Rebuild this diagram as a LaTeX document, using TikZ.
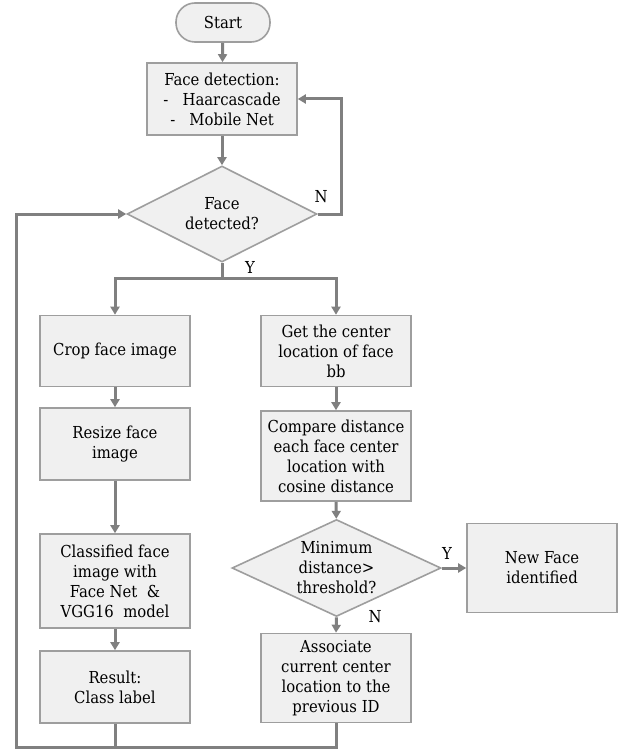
\documentclass[tikz,border=0pt]{standalone}
\usepackage{fontspec}
\setmainfont{DejaVu Serif Condensed}
\usetikzlibrary{shapes.geometric,arrows.meta}

\definecolor{boxfill}{gray}{0.94}
\definecolor{boxline}{gray}{0.62}
\definecolor{linegray}{gray}{0.5}

\begin{document}
\begin{tikzpicture}[x=1pt,y=-1pt,
  every node/.style={font=\fontsize{16.5}{20}\selectfont,inner sep=0pt},
  block/.style={draw=boxline,fill=boxfill,line width=1.6pt,align=center,minimum width=150pt},
  decision/.style={draw=boxline,fill=boxfill,line width=1.6pt,diamond},
  terminal/.style={draw=boxline,fill=boxfill,line width=1.6pt,rounded corners=19pt,minimum width=94pt,minimum height=39pt},
  line/.style={draw=linegray,line width=3pt},
  arr/.style={line,-{Triangle[length=8pt,width=9pt]}}]

\useasboundingbox (0,0) rectangle (631,749);

% Top part
\node[terminal] (start) at (223,22.5) {Start};
\node[block,minimum height=72pt] (det) at (222,99) {Face detection:\\-~~~Haarcascade\\-~~~Mobile Net};
\node[decision,minimum width=190pt,minimum height=96pt] (fd) at (222,214) {};
\node[align=center] (fdtext) at (fd) {Face\\detected?};

% Left column
\node[block,minimum height=71pt] (crop) at (115,351) {Crop face image};
\node[block,minimum height=72pt] (resize) at (115,444) {Resize face\\image};
\node[block,minimum height=94pt] (classify) at (115,581) {Classified face\\image with\\Face Net~~\&\\VGG16~~model};
\node[block,minimum height=72pt] (result) at (115,687) {Result:\\Class label};

% Right column
\node[block,minimum height=71pt] (center) at (336,351) {Get the center\\location of face\\bb};
\node[block,minimum height=90pt] (compare) at (336,456) {Compare distance\\each face center\\location with\\cosine distance};
\node[decision,minimum width=209pt,minimum height=97pt] (thr) at (336.5,568) {};
\node[align=center] (thrtext) at (thr) {Minimum\\distance>\\threshold?};
\node[block,minimum height=89pt] (newface) at (542,568) {New Face\\identified};
\node[block,minimum height=89pt] (assoc) at (336,678) {Associate\\current center\\location to the\\previous ID};

% Branch labels
\node (nlab) at (321,197) {N};
\node (ylab) at (250,267) {Y};
\node (ylab2) at (447,553) {Y};
\node (nlab2) at (375,617) {N};

% Connectors
\coordinate (split) at (222,278);
\coordinate (back) at (16,747);
\draw[arr] (start) -- (det);
\draw[arr] (det) -- (fd);
\draw[arr] (fd.east) -- ++(24,0) |- (det.east);
\draw[line] (fd.south) -- (split);
\draw[arr] (split) -| (crop.north);
\draw[arr] (split) -| (center.north);
\draw[arr] (crop) -- (resize);
\draw[arr] (resize) -- (classify);
\draw[arr] (classify) -- (result);
\draw[arr] (center) -- (compare);
\draw[arr] (compare) -- (thr);
\draw[arr] (thr.east) -- (newface.west);
\draw[arr] (thr.south) -- (assoc.north);
\draw[line] (result.south) -- (result.south |- back);
\draw[arr] (assoc.south) |- (back) |- (fd.west);

\end{tikzpicture}
\end{document}
